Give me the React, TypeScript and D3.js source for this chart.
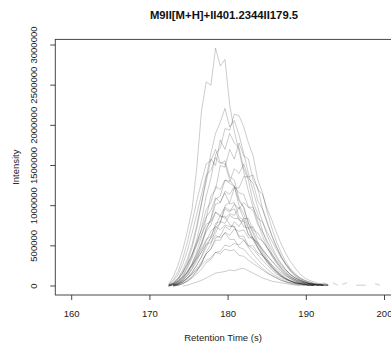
import React from "react";
import * as d3 from "d3";

const TITLE = "M9II[M+H]+II401.2344II179.5";
const X_LABEL = "Retention Time (s)";
const Y_LABEL = "Intensity";
const X_TICKS = [160, 170, 180, 190, 200];
const Y_TICKS = [0, 500000, 1000000, 1500000, 2000000, 2500000, 3000000];
const X_LIM = [157.9, 201.0];
const Y_LIM = [-112000, 3070000];

// retention times (s) shared by all traces
const TIMES = [172.4, 173.0, 173.6, 174.2, 174.8, 175.4, 176.0, 176.6, 177.2, 177.8, 178.4, 179.0, 179.6, 180.2, 180.8, 181.4, 182.0, 182.6, 183.2, 183.8, 184.4, 185.0, 185.6, 186.2, 186.8, 187.4, 188.0, 188.6, 189.2, 189.8, 190.4, 191.0, 191.6, 192.2, 192.8, 193.4];

// intensities in units of 10,000 counts
const TRACE_A = [2, 12, 26, 45, 68, 96, 148, 218, 254, 250, 296, 274, 282, 226, 192, 168, 142, 118, 98, 80, 62, 48, 37, 28, 21, 15, 11, 8, 6, 4, 3, 2, 2, 1, 1];
const TRACE_B = [0, 3, 8, 17, 30, 48, 72, 102, 135, 165, 190, 204, 221, 198, 206, 188, 165, 140, 118, 98, 80, 63, 49, 37, 28, 20, 14, 10, 7, 5, 3, 2, 1, 1];
const TRACE_C = [0, 2, 6, 13, 24, 38, 58, 82, 112, 134, 164, 172, 196, 194, 214, 212, 198, 178, 162, 132, 116, 92, 72, 55, 41, 30, 21, 15, 10, 7, 5, 3, 2, 1, 1];
const TRACE_D = [1, 4, 10, 20, 34, 52, 76, 104, 130, 158, 150, 182, 170, 190, 178, 172, 146, 132, 104, 90, 68, 53, 40, 30, 22, 16, 11, 8, 5, 4, 3, 2, 1, 1];
const TRACE_E = [null, 1, 4, 9, 17, 28, 43, 62, 84, 112, 120, 150, 148, 170, 158, 178, 162, 158, 132, 122, 96, 80, 63, 49, 37, 27, 19, 13, 9, 6, 4, 3, 2, 1, 1];
const TRACE_F = [1, 6, 14, 27, 44, 66, 90, 114, 138, 144, 160, 152, 156, 136, 132, 108, 98, 78, 65, 52, 41, 32, 24, 18, 13, 9, 6, 4, 3, 2, 1, 1];
const TRACE_G = [null, 1, 3, 7, 13, 22, 34, 50, 70, 84, 108, 112, 132, 130, 146, 140, 152, 134, 128, 106, 96, 78, 62, 48, 36, 26, 18, 12, 8, 5, 3, 2, 1, 1];
const TRACE_H = [0, 2, 6, 12, 22, 35, 52, 72, 95, 104, 124, 120, 132, 128, 124, 106, 98, 78, 68, 55, 44, 34, 26, 19, 14, 10, 7, 5, 3, 2, 1, 1];
const TRACE_I = [null, 1, 3, 8, 15, 25, 38, 54, 72, 82, 102, 104, 118, 114, 124, 116, 114, 98, 94, 76, 68, 56, 45, 35, 27, 20, 14, 10, 7, 5, 3, 2, 1, 1];
const TRACE_J = [1, 3, 8, 16, 27, 40, 55, 70, 86, 94, 110, 104, 116, 102, 104, 86, 82, 64, 57, 47, 38, 30, 23, 17, 12, 9, 6, 4, 3, 2, 1, 1];
const TRACE_K = [null, 0, 2, 5, 10, 17, 26, 37, 52, 60, 78, 80, 96, 92, 102, 96, 104, 98, 98, 84, 80, 67, 56, 45, 35, 27, 20, 14, 10, 7, 5, 3, 2, 1, 1];
const TRACE_L = [0, 2, 5, 10, 18, 28, 40, 53, 68, 76, 92, 88, 98, 94, 96, 82, 80, 64, 60, 48, 39, 31, 24, 18, 13, 9, 6, 4, 3, 2, 1, 1];
const TRACE_M = [null, 1, 3, 7, 13, 21, 31, 43, 56, 68, 74, 88, 84, 90, 88, 98, 84, 84, 70, 66, 56, 47, 38, 30, 23, 17, 12, 8, 6, 4, 3, 2, 1, 1];
const TRACE_N = [1, 4, 9, 17, 27, 39, 52, 64, 77, 80, 92, 86, 87, 76, 74, 60, 58, 48, 40, 33, 27, 21, 16, 12, 9, 6, 4, 3, 2, 1, 1];
const TRACE_O = [null, 1, 2, 5, 10, 17, 26, 36, 48, 60, 66, 80, 78, 88, 84, 84, 74, 72, 58, 54, 46, 38, 31, 24, 18, 13, 9, 6, 4, 3, 2, 1, 1];
const TRACE_P = [null, 0, 1, 3, 7, 12, 19, 28, 40, 46, 60, 62, 74, 70, 80, 74, 84, 72, 74, 60, 56, 48, 40, 32, 25, 19, 14, 10, 7, 5, 3, 2, 1, 1];
const TRACE_Q = [0, 2, 5, 10, 17, 26, 36, 46, 58, 62, 74, 70, 76, 74, 74, 62, 62, 50, 46, 39, 32, 26, 20, 15, 11, 8, 6, 4, 3, 2, 1, 1];
const TRACE_R = [null, 1, 2, 5, 9, 15, 22, 30, 40, 46, 57, 57, 67, 63, 71, 68, 70, 60, 60, 52, 45, 38, 31, 25, 19, 14, 10, 7, 5, 3, 2, 1, 1];
const TRACE_S = [1, 3, 6, 11, 18, 26, 34, 42, 52, 54, 63, 60, 66, 58, 58, 48, 46, 39, 33, 27, 22, 17, 13, 10, 7, 5, 3, 2, 1, 1];
const TRACE_T = [null, 0, 1, 3, 6, 10, 15, 21, 29, 33, 42, 43, 51, 49, 53, 51, 57, 50, 50, 41, 38, 32, 26, 21, 16, 12, 9, 6, 4, 3, 2, 1, 1];
const TRACE_U = [0, 1, 3, 6, 10, 15, 20, 26, 32, 35, 42, 40, 46, 44, 45, 38, 37, 32, 28, 24, 20, 16, 13, 10, 7, 5, 4, 3, 2, 1, 1];
const TRACE_V = [null, null, null, 0, 1, 3, 5, 7, 10, 13, 16, 17, 18, 20, 19, 21, 22, 19, 16, 13, 10, 8, 6, 5, 4, 3, 2, 1, 1];
const TRACE_W = [null, 0, 1, 3, 6, 11, 18, 28, 42, 52, 72, 78, 100, 104, 122, 122, 136, 136, 138, 120, 114, 96, 82, 66, 52, 40, 30, 22, 15, 10, 7, 5, 3, 2, 1];
const TRACE_X = [2, 8, 18, 34, 55, 80, 106, 130, 152, 156, 170, 154, 152, 132, 124, 100, 90, 73, 60, 48, 38, 29, 22, 16, 12, 8, 6, 4, 3, 2, 1, 1];

// sparse noise after the peak
const TAIL_TIMES = [191.6, 192.2, 192.8, 193.4, 194.0, 194.6, 195.2, 195.8, 196.4, 197.0, 197.6, 198.2, 198.8, 199.4];
const TAIL_A = [3, 1, null, 4, 1, null, null, null, null, null, null, null, 3, 1];
const TAIL_B = [null, 4, 2, null, null, 2, 4, null, 1, 1, 1, null, null, null];
const TAIL_C = [2, 3, 1, null, null, null, null, null, null, null, null, null, null, null];

const TRACES = [TRACE_A, TRACE_B, TRACE_C, TRACE_D, TRACE_E, TRACE_F, TRACE_G, TRACE_H, TRACE_I, TRACE_J, TRACE_K, TRACE_L, TRACE_M, TRACE_N, TRACE_O, TRACE_P, TRACE_Q, TRACE_R, TRACE_S, TRACE_T, TRACE_U, TRACE_V, TRACE_W, TRACE_X];
const TAILS = [TAIL_A, TAIL_B, TAIL_C];
const UNIT = 10000;

const W = 391;
const H = 347;
const FONT = "'Liberation Sans', Arial, Helvetica, sans-serif";

export default function App() {
  const x = d3.scaleLinear().domain([160, 200]).range([71.7, 384.5]);
  const y = d3.scaleLinear().domain([0, 3000000]).range([286, 45]);
  const left = x(X_LIM[0]);
  const right = x(X_LIM[1]);
  const top = y(Y_LIM[1]);
  const bottom = y(Y_LIM[0]);

  const mkLine = (times: number[]) =>
    d3
      .line<number | null>()
      .defined((d) => d !== null && d !== undefined)
      .x((_, i) => x(times[i]))
      .y((d) => y((d as number) * UNIT));

  const mainLine = mkLine(TIMES);
  const tailLine = mkLine(TAIL_TIMES);

  return (
    <svg width={W} height={H} style={{ position: "absolute", left: 0, top: 0, background: "#fff" }} fontFamily={FONT}>
      <rect x={0} y={0} width={W} height={H} fill="#fff" />
      <g fill="none" stroke="rgba(0,0,0,0.2)" strokeWidth={1} strokeLinejoin="round">
        {TRACES.map((t, i) => (
          <path key={i} d={mainLine(t) || ""} />
        ))}
        {TAILS.map((t, i) => (
          <path key={"t" + i} d={tailLine(t) || ""} />
        ))}
      </g>
      <rect x={left} y={top} width={right - left} height={bottom - top} fill="none" stroke="#333" strokeWidth={0.9} />
      {X_TICKS.map((t) => (
        <g key={t}>
          <line x1={x(t)} x2={x(t)} y1={bottom} y2={bottom + 5} stroke="#333" strokeWidth={0.9} />
          <text x={x(t)} y={316.5} fontSize={9.5} textAnchor="middle" fill="#222">
            {t}
          </text>
        </g>
      ))}
      {Y_TICKS.map((t) => (
        <g key={t}>
          <line x1={left - 5} x2={left} y1={y(t)} y2={y(t)} stroke="#333" strokeWidth={0.9} />
          <text
            transform={`translate(37,${y(t)}) rotate(-90)`}
            fontSize={9.5}
            textAnchor="middle"
            fill="#222"
          >
            {t}
          </text>
        </g>
      ))}
      <text x={223} y={340.5} fontSize={9.5} textAnchor="middle" fill="#222">
        {X_LABEL}
      </text>
      <text transform={`translate(18.5,${(top + bottom) / 2}) rotate(-90)`} fontSize={9.5} textAnchor="middle" fill="#222">
        {Y_LABEL}
      </text>
      <text x={224} y={19} fontSize={11.3} fontWeight="bold" textAnchor="middle" fill="#111">
        {TITLE}
      </text>
    </svg>
  );
}
